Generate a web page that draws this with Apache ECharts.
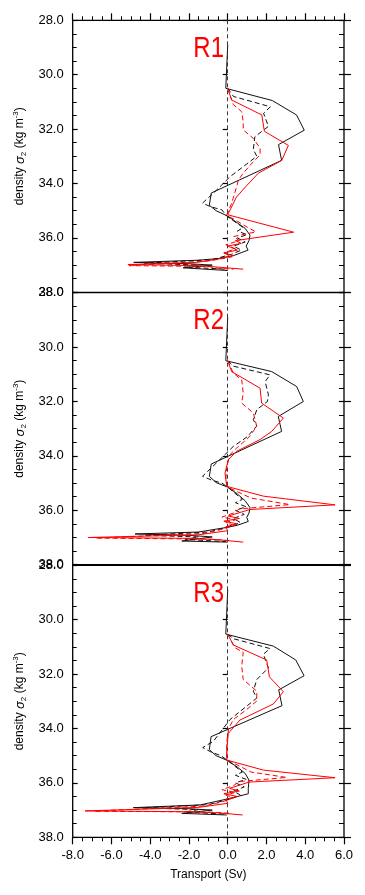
<!DOCTYPE html>
<html><head><meta charset="utf-8">
<script src="https://cdn.jsdelivr.net/npm/echarts@6/dist/echarts.min.js"></script>
<style>html,body{margin:0;padding:0;background:#fff}#c{width:365px;height:895px}</style>
</head><body><div id="c"></div>
<script>
// ---------- data ----------
const panelNames = ['R1', 'R2', 'R3'];
const xTickMin = -8, xTickMax = 6, xTickStep = 2;
const yTickMin = 28, yTickMax = 38, yTickStep = 2;
const xAxisTitle = 'Transport (Sv)';

// [transport (Sv), density sigma2]
const r1BlackSolid = [[0.0,28.9],[-0.1,30.5],[2.3,30.95],[3.55,31.48],[3.95,32.04],[2.62,32.57],[2.78,33.15],[-0.85,34.35],[-0.95,34.8],[-0.6,35.0],[0.0,35.2],[0.5,35.45],[0.9,35.65],[1.15,35.9],[1.1,36.1],[0.95,36.3],[1.05,36.45],[0.3,36.65],[-0.5,36.76],[-1.5,36.82],[-4.85,36.9],[-2.0,36.95],[-0.8,37.0],[-2.3,37.1],[0.0,37.2]];
const r1BlackDashed = [[0.0,30.5],[0.3,30.8],[2.2,31.18],[1.85,31.42],[2.1,31.9],[1.4,32.28],[1.32,32.75],[1.5,33.0],[0.12,33.75],[-0.66,34.3],[-1.3,34.72],[-0.9,34.85],[-0.3,34.97],[-0.05,35.2],[0.8,35.62],[0.5,35.75],[1.0,35.88],[0.5,36.0],[0.9,36.15],[0.3,36.3],[0.7,36.45],[0.2,36.6],[-0.8,36.8],[-4.3,36.93],[-1.5,37.0],[-2.0,37.08],[-0.1,37.15]];
const r1RedSolid = [[0.0,30.5],[0.2,30.93],[1.76,31.48],[1.89,32.08],[3.13,32.6],[2.79,33.15],[1.58,33.62],[0.95,34.1],[0.45,34.5],[0.0,35.15],[3.4,35.79],[0.4,36.1],[0.7,36.2],[0.0,36.3],[0.5,36.45],[-0.2,36.55],[0.3,36.65],[-0.5,36.78],[-1.6,36.9],[-5.15,36.98],[-1.5,37.02],[-0.4,37.08],[0.8,37.15]];
const r1RedDashed = [[0.0,30.5],[0.29,31.1],[0.72,31.36],[0.8,31.73],[0.8,32.03],[1.32,32.34],[1.67,32.7],[1.67,32.95],[1.32,33.2],[0.8,33.62],[0.55,33.87],[0.46,34.12],[0.2,34.73],[-0.05,35.16],[1.0,35.6],[1.45,35.78],[0.3,35.95],[0.6,36.1],[-0.1,36.25],[0.4,36.4],[-0.2,36.55],[0.2,36.7],[-1.0,36.85],[-5.1,37.02],[-1.0,37.05],[-0.5,37.12],[0.3,37.15]];

const r2BlackSolid = [[0.0,28.9],[-0.1,30.5],[2.27,30.9],[3.56,31.45],[3.9,32.0],[2.61,32.55],[2.78,33.1],[-0.85,34.3],[-0.95,34.75],[-0.6,34.98],[0.0,35.15],[0.5,35.4],[0.9,35.65],[1.15,35.9],[1.1,36.1],[0.98,36.26],[1.06,36.41],[0.5,36.55],[-0.05,36.63],[-1.52,36.8],[-4.78,36.87],[-2.0,36.92],[-0.8,36.98],[-2.37,37.13],[0.0,37.17]];
const r2BlackDashed = [[0.0,30.5],[0.29,30.7],[2.18,31.02],[1.93,31.27],[2.1,31.75],[2.05,32.0],[1.5,32.3],[1.32,32.67],[1.5,32.9],[1.0,33.3],[0.29,33.65],[-0.5,34.2],[-1.3,34.75],[-0.8,34.9],[-0.3,35.0],[0.0,35.15],[0.75,35.6],[0.4,35.72],[0.95,35.87],[0.4,36.0],[0.85,36.15],[0.3,36.3],[0.65,36.45],[0.1,36.6],[-1.0,36.8],[-4.3,36.92],[-1.5,36.98],[-2.2,37.07],[-0.1,37.15]];
const r2RedSolid = [[0.0,30.5],[0.2,30.9],[1.67,31.51],[1.75,32.06],[2.87,32.61],[2.27,33.1],[1.67,33.4],[0.46,33.83],[0.03,34.14],[-0.14,34.63],[-0.05,35.12],[1.84,35.48],[5.54,35.8],[1.15,35.97],[0.03,36.21],[0.6,36.3],[-0.2,36.4],[0.5,36.5],[-0.1,36.6],[0.0,36.75],[-1.5,36.9],[-7.2,37.0],[-2.0,37.03],[-0.5,37.08],[0.8,37.17]];
const r2RedDashed = [[0.0,30.5],[0.29,30.96],[0.72,31.2],[0.8,31.69],[0.72,32.06],[1.32,32.42],[1.5,32.92],[1.06,33.34],[0.46,33.71],[0.12,33.95],[-0.05,34.4],[-0.1,34.9],[0.0,35.15],[1.2,35.55],[3.2,35.79],[0.6,35.95],[0.3,36.1],[-0.3,36.25],[0.4,36.35],[-0.1,36.45],[0.3,36.55],[-0.3,36.7],[-1.2,36.85],[-6.8,37.02],[-1.0,37.06],[0.2,37.12]];

const r3BlackSolid = [[0.0,28.9],[-0.1,30.53],[2.35,30.97],[3.51,31.48],[3.94,32.06],[2.63,32.58],[2.8,33.16],[-0.86,34.3],[-0.95,34.78],[-0.6,35.0],[0.0,35.18],[0.5,35.42],[0.9,35.65],[1.1,35.9],[1.06,36.2],[1.06,36.4],[0.12,36.57],[-1.43,36.81],[-4.87,36.91],[-2.0,36.95],[-0.8,37.0],[-2.37,37.12],[-0.05,37.18]];
const r3BlackDashed = [[0.0,30.53],[0.3,30.7],[2.18,31.06],[1.84,31.27],[2.1,31.77],[1.5,32.2],[1.32,32.63],[1.5,32.88],[0.12,33.67],[-0.74,34.47],[-1.29,34.7],[-0.9,34.85],[-0.35,35.0],[0.0,35.18],[0.75,35.6],[0.4,35.72],[0.95,35.87],[0.4,36.0],[0.85,36.15],[0.3,36.3],[0.65,36.45],[0.1,36.6],[-1.0,36.8],[-4.4,36.92],[-1.5,36.98],[-2.2,37.07],[-0.1,37.15]];
const r3RedSolid = [[0.0,30.53],[0.29,30.93],[2.01,31.48],[2.15,32.1],[2.87,32.65],[2.35,33.1],[0.63,33.69],[0.03,34.18],[-0.05,34.79],[-0.05,35.16],[1.84,35.53],[5.54,35.81],[1.1,35.97],[0.1,36.2],[0.6,36.3],[-0.2,36.4],[0.5,36.5],[-0.1,36.6],[0.0,36.75],[-1.5,36.9],[-7.36,37.03],[-2.0,37.06],[-0.5,37.1],[0.77,37.18]];
const r3RedDashed = [[0.0,30.53],[0.37,31.03],[0.8,31.2],[0.72,31.7],[0.8,32.2],[1.5,32.63],[1.5,32.99],[0.98,33.3],[0.29,33.67],[0.05,34.0],[-0.05,34.5],[-0.05,35.0],[0.0,35.16],[1.2,35.6],[3.04,35.8],[0.6,35.95],[0.3,36.1],[-0.3,36.25],[0.4,36.35],[-0.1,36.45],[0.3,36.55],[-0.3,36.7],[-1.2,36.85],[-6.9,37.04],[-1.0,37.07],[0.2,37.12]];

const panelData = [
  [r1BlackDashed, r1BlackSolid, r1RedDashed, r1RedSolid],
  [r2BlackDashed, r2BlackSolid, r2RedDashed, r2RedSolid],
  [r3BlackDashed, r3BlackSolid, r3RedDashed, r3RedSolid]
];

// ---------- layout / style ----------
const FONT = '"Liberation Sans", Arial, Helvetica, sans-serif';
const gridTops = [20.3, 292.7, 565.3];
const gridH = 272;
const gridLeft = 72.7, gridRight = 21;
const seriesStyles = [
  {color: '#111', type: [5, 3]},
  {color: '#111', type: 'solid'},
  {color: '#ff0000', type: [5, 3]},
  {color: '#ff0000', type: 'solid'}
];

const grids = gridTops.map(t => ({left: gridLeft, right: gridRight, top: t, height: gridH,
  show: true, borderColor: '#000', borderWidth: 1.3, backgroundColor: 'transparent'}));

function yAxisDef(g, pos, inside, withLabel, tickLen, minor) {
  return {
    type: 'value', gridIndex: g, position: pos, inverse: true,
    min: yTickMin, max: yTickMax, interval: yTickStep,
    axisLine: {show: false},
    splitLine: {show: false},
    axisTick: {show: tickLen > 0, inside: inside, length: tickLen, lineStyle: {color: '#000', width: 1.2}},
    minorTick: {show: !!minor, splitNumber: 4, length: minor || 0, lineStyle: {color: '#000', width: 1}},
    axisLabel: {show: withLabel, formatter: v => v.toFixed(1), fontFamily: FONT, fontSize: 13,
      color: '#000', margin: 9}
  };
}

const yAxes = [];
for (let g = 0; g < 3; g++) {
  yAxes.push(yAxisDef(g, 'left', false, true, 5, 0));
  yAxes.push(yAxisDef(g, 'left', true, false, 5, 4));
  yAxes.push(yAxisDef(g, 'right', false, false, 7, 0));
  yAxes.push(yAxisDef(g, 'right', true, false, 5, 5));
}

function xAxisDef(g, pos, visible, withLabel) {
  return {
    type: 'value', gridIndex: g, position: pos,
    min: xTickMin, max: xTickMax, interval: xTickStep,
    axisLine: {show: false},
    splitLine: {show: false},
    axisTick: {show: visible, inside: false, length: 7, lineStyle: {color: '#000', width: 1.2}},
    minorTick: {show: visible, splitNumber: 4, length: 4, lineStyle: {color: '#000', width: 1}},
    axisLabel: {show: withLabel, formatter: v => v.toFixed(1), fontFamily: FONT, fontSize: 13,
      color: '#000', margin: 12},
    name: withLabel ? xAxisTitle : '',
    nameLocation: 'middle', nameGap: 31,
    nameTextStyle: {fontFamily: FONT, fontSize: 12, color: '#000'}
  };
}
const xAxes = [
  xAxisDef(0, 'top', true, false),
  xAxisDef(1, 'bottom', false, false),
  xAxisDef(2, 'bottom', true, true)
];

const series = [];
panelData.forEach((lines, g) => {
  lines.forEach((d, k) => {
    const s = {
      type: 'line', xAxisIndex: g, yAxisIndex: g * 4, data: d,
      showSymbol: false, symbol: 'none', silent: true, z: 3 + k,
      lineStyle: {color: seriesStyles[k].color, width: 1, type: seriesStyles[k].type},
      itemStyle: {color: seriesStyles[k].color}
    };
    if (k === 0) {
      s.markLine = {silent: true, symbol: 'none', label: {show: false},
        lineStyle: {color: '#222', width: 0.9, type: [4, 3]},
        data: [{xAxis: 0}]};
    }
    series.push(s);
  });
});

const graphic = [];
gridTops.forEach((t, i) => {
  graphic.push({type: 'text', x: 224, y: t + 28, scaleX: 0.8, z: 100,
    style: {text: panelNames[i], fill: '#ff0000', fontFamily: FONT, fontSize: 30,
      align: 'right', verticalAlign: 'middle'}});
  graphic.push({type: 'text', x: 20, y: t + gridH / 2, rotation: Math.PI / 2, z: 100,
    style: {text: '{n|density }{i|σ}{s|2}{n| (kg m}{p|-3}{n|)}', fill: '#000',
      align: 'center', verticalAlign: 'middle',
      rich: {
        n: {fontFamily: FONT, fontSize: 12, lineHeight: 16, color: '#000'},
        i: {fontFamily: FONT, fontSize: 13, fontStyle: 'italic', lineHeight: 16, color: '#000'},
        s: {fontFamily: FONT, fontSize: 8, lineHeight: 8, verticalAlign: 'bottom', color: '#000'},
        p: {fontFamily: FONT, fontSize: 8, lineHeight: 8, verticalAlign: 'top', color: '#000'}
      }}});
});

const chart = echarts.init(document.getElementById('c'), null, {renderer: 'canvas'});
chart.setOption({
  animation: false,
  backgroundColor: '#fff',
  grid: grids,
  xAxis: xAxes,
  yAxis: yAxes,
  series: series,
  graphic: graphic
});
</script>
</body></html>
